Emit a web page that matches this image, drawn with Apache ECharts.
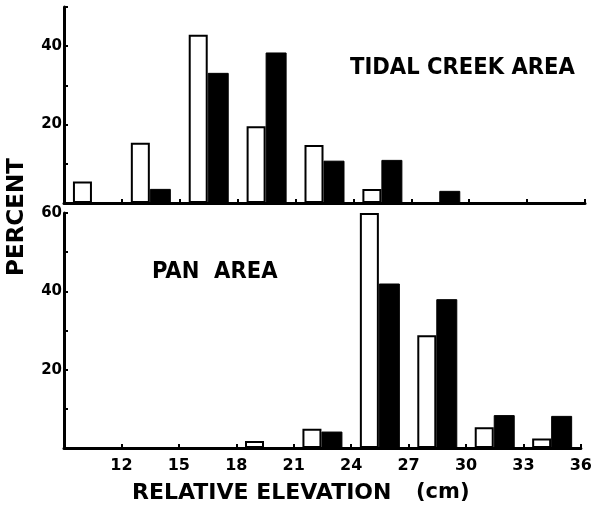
<!DOCTYPE html>
<html><head><meta charset="utf-8">
<script src="https://cdn.jsdelivr.net/npm/echarts@6/dist/echarts.min.js"></script>
<style>html,body{margin:0;padding:0;background:#fff}#c{width:595px;height:505px}</style>
</head><body><div id="c"></div>
<script>
// Elevation bins (cm) and percent values
const bins = ['9-12','12-15','15-18','18-21','21-24','24-27','27-30','30-33','33-36'];
const tidalWhite = [5.5, 15.4, 42.9, 19.6, 14.8, 3.6, null, null, null];
const tidalBlack = [null, 3.6, 33.2, 38.4, 10.8, 11.0, 3.1, null, null];
const panWhite = [null, null, null, 1.8, 4.9, 60, 28.8, 5.3, 2.4];
const panBlack = [null, null, null, null, 4.2, 42, 38, 8.4, 8.2];
const xTickLabels = [12, 15, 18, 21, 24, 27, 30, 33, 36];
const tidalYLabels = [20, 40];
const panYLabels = [20, 40, 60];

const FONT = 'DejaVu Sans';
const CFONT = 'DejaVu Sans Condensed';
const chart = echarts.init(document.getElementById('c'), null, {renderer: 'canvas'});

function catAxis(gi) {
  return {type: 'category', gridIndex: gi, position: 'bottom', data: bins, show: false};
}
function valXAxis(gi, showLabels) {
  return {
    type: 'value', gridIndex: gi, position: 'bottom', min: 9, max: 36, interval: 3,
    axisLine: {show: true, onZero: false, lineStyle: {color: '#000', width: 3}},
    axisTick: {show: true, inside: true, length: 4, lineStyle: {color: '#000', width: 2}},
    splitLine: {show: false},
    axisLabel: {
      show: showLabels, margin: 10, color: '#000', fontFamily: FONT, fontWeight: 'bold', fontSize: 16,
      formatter: v => xTickLabels.includes(v) ? String(v) : ''
    }
  };
}
function yAxis(gi, max, labels) {
  return {
    type: 'value', gridIndex: gi, position: 'left', min: 0, max: max, interval: 10,
    axisLine: {show: true, lineStyle: {color: '#000', width: 3}},
    axisTick: {show: true, inside: true, length: 4, lineStyle: {color: '#000', width: 2}},
    splitLine: {show: false},
    axisLabel: {
      margin: 2, color: '#000', fontFamily: FONT, fontWeight: 'bold', fontSize: 15,
      formatter: v => labels.includes(v) ? String(v) : ''
    }
  };
}
const whiteStyle = {color: '#fff', borderColor: '#000', borderWidth: 2};
const blackStyle = {color: '#000', borderColor: '#000', borderWidth: 1};

chart.setOption({
  animation: false,
  backgroundColor: '#fff',
  grid: [
    {left: 64, top: 7, width: 521, height: 196},
    {left: 64, top: 213, width: 521, height: 235}
  ],
  xAxis: [catAxis(0), valXAxis(0, false), catAxis(1), valXAxis(1, true)],
  yAxis: [yAxis(0, 50, tidalYLabels), yAxis(1, 60, panYLabels)],
  series: [
    {type: 'bar', xAxisIndex: 0, yAxisIndex: 0, data: tidalWhite, barWidth: 19, barGap: '0%', itemStyle: whiteStyle},
    {type: 'bar', xAxisIndex: 0, yAxisIndex: 0, data: tidalBlack, barWidth: 21, barGap: '0%', itemStyle: blackStyle},
    {type: 'bar', xAxisIndex: 2, yAxisIndex: 1, data: panWhite, barWidth: 19, barGap: '0%', itemStyle: whiteStyle},
    {type: 'bar', xAxisIndex: 2, yAxisIndex: 1, data: panBlack, barWidth: 21, barGap: '0%', itemStyle: blackStyle}
  ],
  graphic: [
    {type: 'text', x: 350, y: 68, style: {text: 'TIDAL CREEK AREA', font: 'bold 23.5px ' + CFONT, fill: '#000', verticalAlign: 'middle'}},
    {type: 'text', x: 152, y: 272, style: {text: 'PAN  AREA', font: 'bold 23.5px ' + CFONT, fill: '#000', verticalAlign: 'middle'}},
    {type: 'text', x: 17, y: 217, rotation: Math.PI / 2,
      style: {text: 'PERCENT', font: 'bold 23px ' + FONT, fill: '#000', align: 'center', verticalAlign: 'middle'}},
    {type: 'text', x: 132, y: 493,
      style: {text: 'RELATIVE ELEVATION', font: 'bold 22px ' + FONT, fill: '#000', verticalAlign: 'middle'}},
    {type: 'text', x: 416, y: 493,
      style: {text: '(cm)', font: 'bold 21px ' + FONT, fill: '#000', verticalAlign: 'middle'}}
  ]
});
</script></body></html>
